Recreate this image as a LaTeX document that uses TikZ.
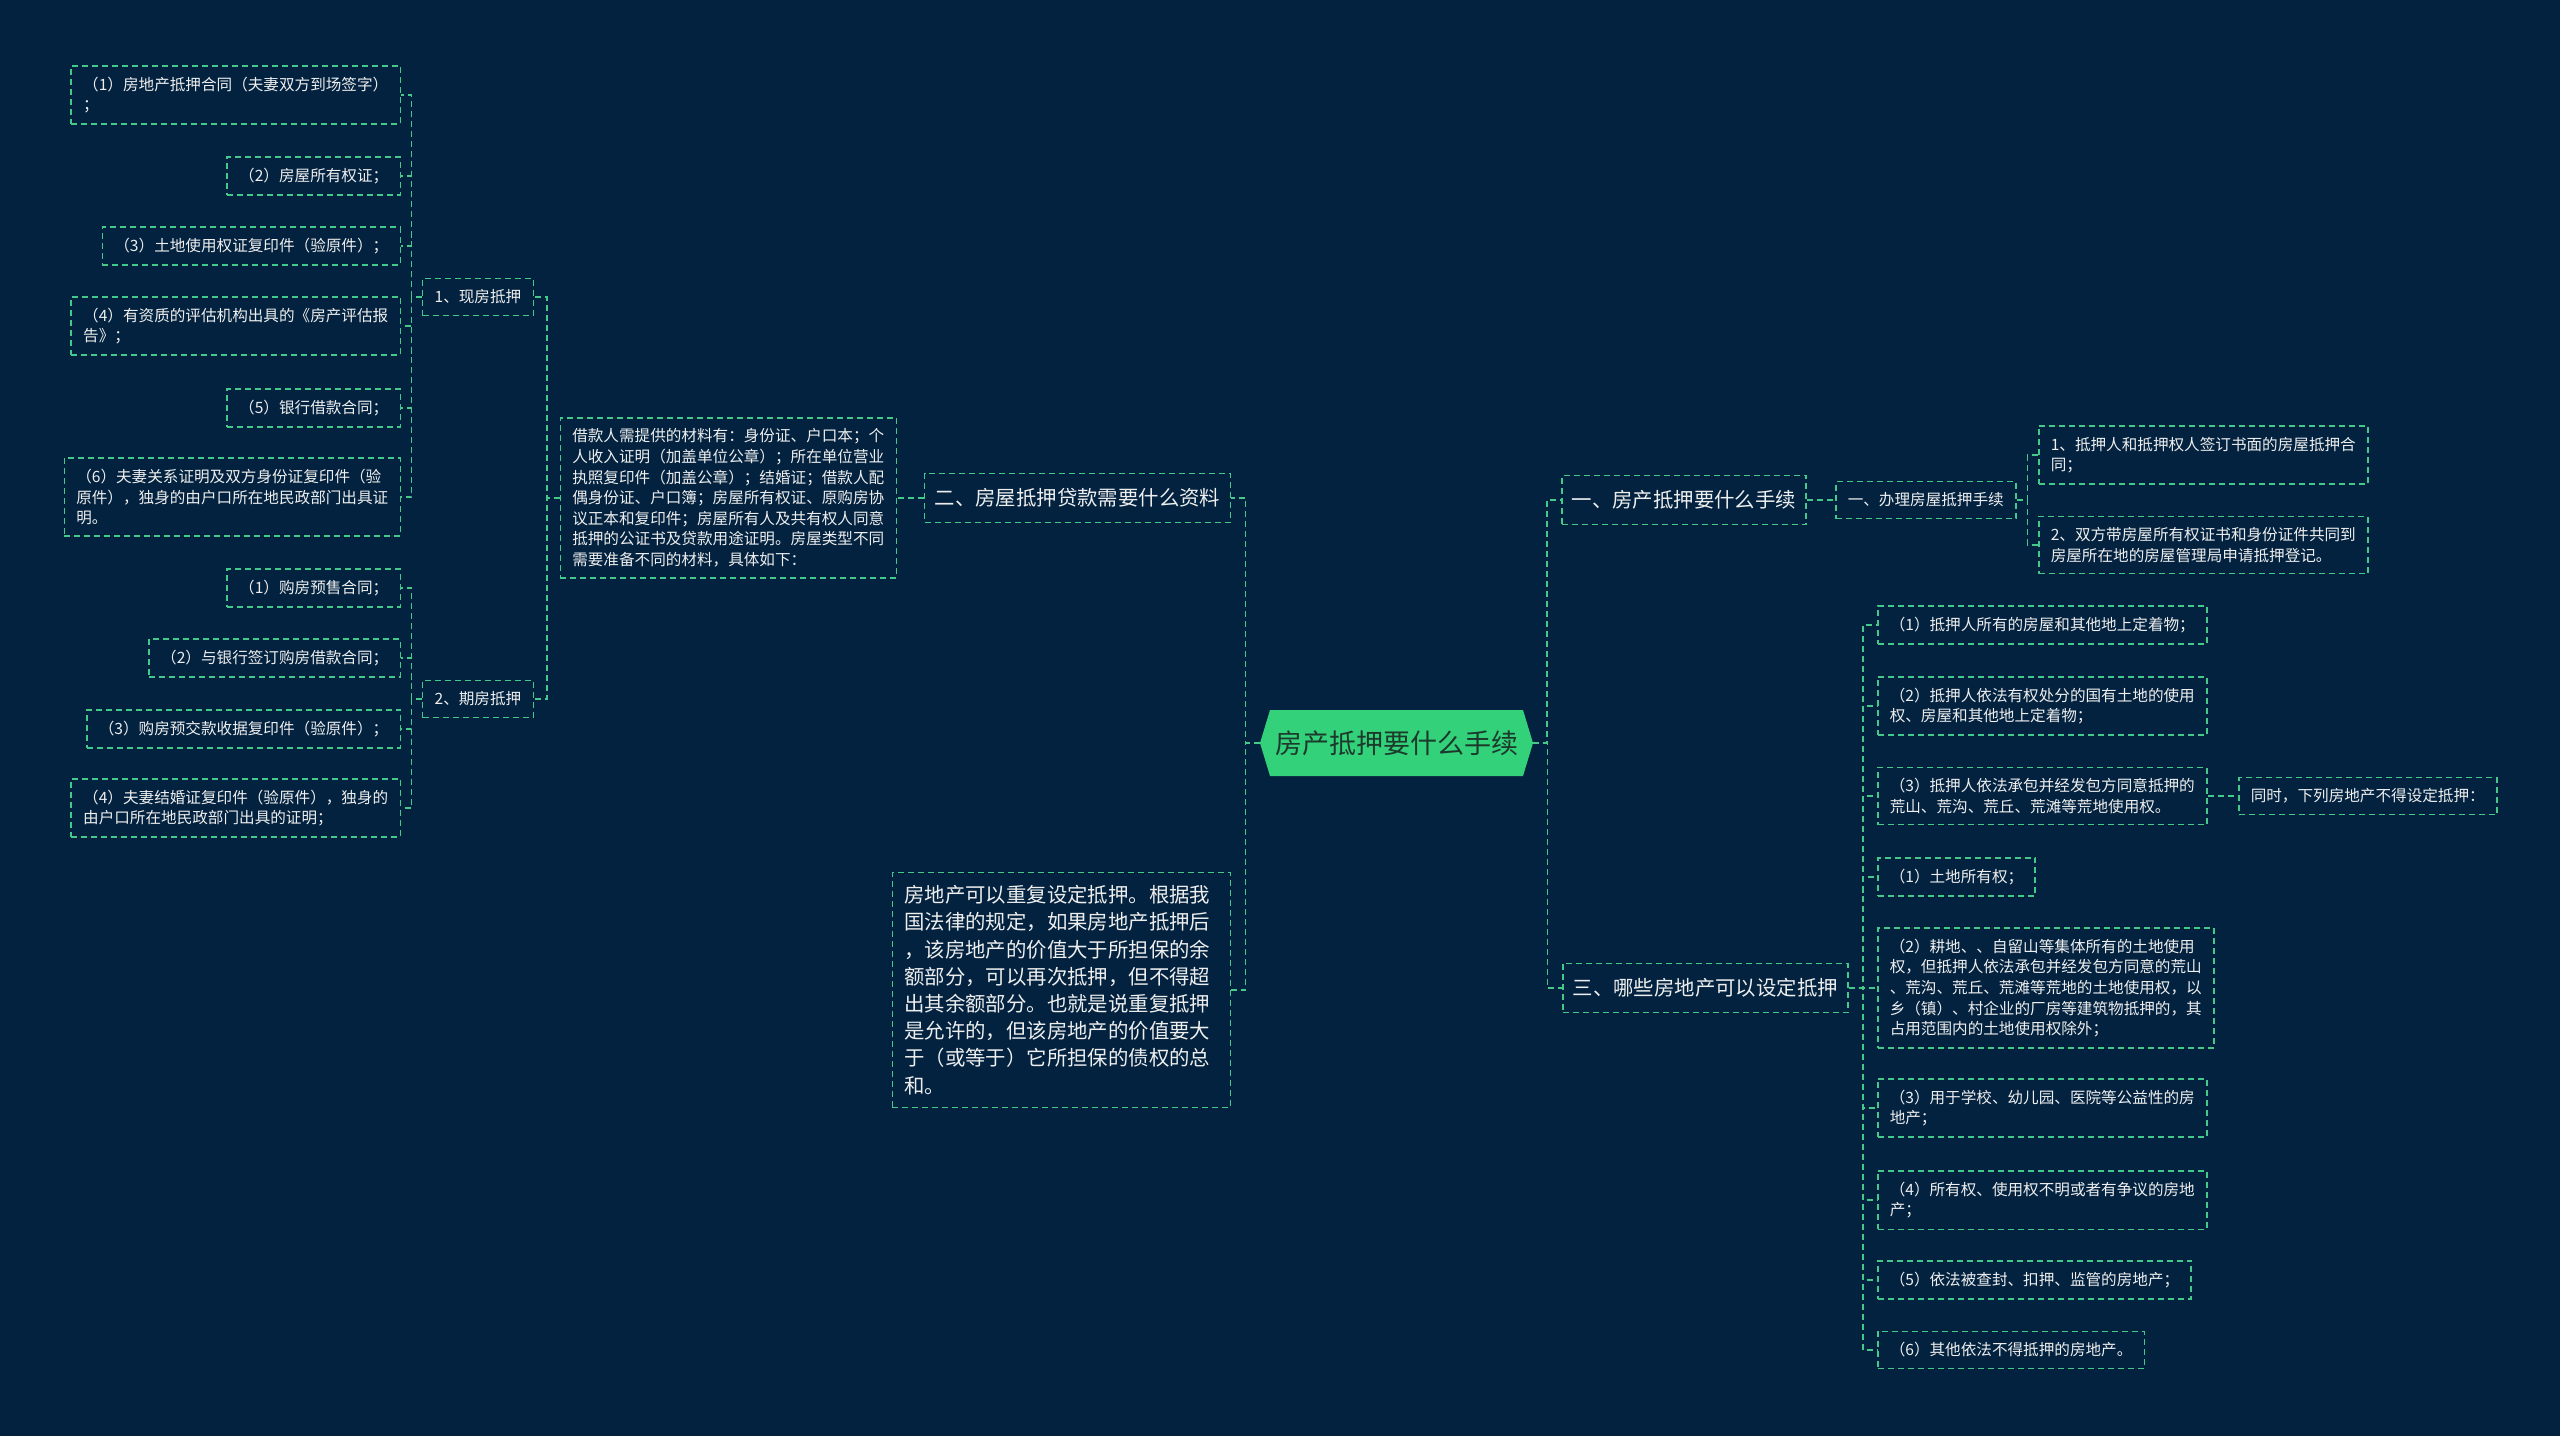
\documentclass[tikz,border=0pt]{standalone}
\usepackage{fontspec}
\setmainfont{Noto Sans CJK SC}
\usetikzlibrary{calc}
\definecolor{bgNavy}{HTML}{02223F}
\definecolor{linkGreen}{HTML}{45C98A}
\definecolor{rootGreen}{HTML}{33D17A}
\definecolor{rootInk}{HTML}{1C3A2C}
\definecolor{paperWhite}{HTML}{EEEEEE}

\begin{document}
\begin{tikzpicture}[x=0.5pt, y=-0.5pt,
  leaf/.style={draw=linkGreen, dash pattern=on 3pt off 2pt, line width=0.75pt,
    text=paperWhite, font=\fontsize{7.8pt}{10.3pt}\selectfont, align=left,
    inner xsep=6pt, inner ysep=5.5pt, minimum height=18.5pt},
  topic/.style={leaf, font=\fontsize{10.2pt}{13.6pt}\selectfont,
    inner xsep=5pt, inner ysep=6.5pt, minimum height=24.5pt},
  link/.style={draw=linkGreen, dash pattern=on 3pt off 2pt, line width=0.75pt},
  elbow/.style={to path={-| ($(\tikztostart)!0.5!(\tikztotarget)$) |- (\tikztotarget)}}]
  % Background
  \useasboundingbox (0,0) rectangle (2560,1436);
  \fill[bgNavy] (0,0) rectangle (2560,1436);
  % Centre
  \fill[rootGreen] (1260,743) -- (1270,710) -- (1523,710) -- (1533,743)
        -- (1523,776) -- (1270,776) -- cycle;
  \node (root) at (1396.5,743) [minimum width=136.5pt, minimum height=33pt,
        inner sep=0pt, text=rootInk, font=\fontsize{13.5pt}{16pt}\selectfont]
        {房产抵押要什么手续};
  % Left: second topic
  \node (two) at (1231,498) [topic, anchor=east] {二、房屋抵押贷款需要什么资料};
  \node (docs) at (897,498) [leaf, anchor=east]
        {借款人需提供的材料有：身份证、户口本；个\\人收入证明（加盖单位公章）；所在单位营业\\执照复印件（加盖公章）；结婚证；借款人配\\偶身份证、户口簿；房屋所有权证、原购房协\\议正本和复印件；房屋所有人及共有权人同意\\抵押的公证书及贷款用途证明。房屋类型不同\\需要准备不同的材料，具体如下：};
  \node (cur) at (534,297) [leaf, anchor=east] {1、现房抵押};
  \node (fut) at (534,699) [leaf, anchor=east] {2、期房抵押};
  \node (c1) at (401,95) [leaf, anchor=east] {（1）房地产抵押合同（夫妻双方到场签字）\\；};
  \node (c2) at (401,176) [leaf, anchor=east] {（2）房屋所有权证；};
  \node (c3) at (401,246) [leaf, anchor=east] {（3）土地使用权证复印件（验原件）；};
  \node (c4) at (401,326) [leaf, anchor=east] {（4）有资质的评估机构出具的《房产评估报\\告》；};
  \node (c5) at (401,408) [leaf, anchor=east] {（5）银行借款合同；};
  \node (c6) at (401,497) [leaf, anchor=east]
        {（6）夫妻关系证明及双方身份证复印件（验\\原件），独身的由户口所在地民政部门出具证\\明。};
  \node (f1) at (401,588) [leaf, anchor=east] {（1）购房预售合同；};
  \node (f2) at (401,658) [leaf, anchor=east] {（2）与银行签订购房借款合同；};
  \node (f3) at (401,729) [leaf, anchor=east] {（3）购房预交款收据复印件（验原件）；};
  \node (f4) at (401,808) [leaf, anchor=east]
        {（4）夫妻结婚证复印件（验原件），独身的\\由户口所在地民政部门出具的证明；};
  % Left: loose note
  \node (again) at (1231,990) [topic, anchor=east, inner xsep=6pt, text width=157pt]
        {房地产可以重复设定抵押。根据我\\国法律的规定，如果房地产抵押后\\，该房地产的价值大于所担保的余\\额部分，可以再次抵押，但不得超\\出其余额部分。也就是说重复抵押\\是允许的，但该房地产的价值要大\\于（或等于）它所担保的债权的总\\和。};
  % Right: first topic
  \node (one) at (1561,500) [topic, anchor=west] {一、房产抵押要什么手续};
  \node (reg) at (1835,500) [leaf, anchor=west] {一、办理房屋抵押手续};
  \node (reg1) at (2038,455) [leaf, anchor=west] {1、抵押人和抵押权人签订书面的房屋抵押合\\同；};
  \node (reg2) at (2038,545) [leaf, anchor=west] {2、双方带房屋所有权证书和身份证件共同到\\房屋所在地的房屋管理局申请抵押登记。};
  % Right: third topic
  \node (three) at (1562,988) [topic, anchor=west] {三、哪些房地产可以设定抵押};
  \node (ok1) at (1877,625) [leaf, anchor=west] {（1）抵押人所有的房屋和其他地上定着物；};
  \node (ok2) at (1877,706) [leaf, anchor=west] {（2）抵押人依法有权处分的国有土地的使用\\权、房屋和其他地上定着物；};
  \node (ok3) at (1877,796) [leaf, anchor=west] {（3）抵押人依法承包并经发包方同意抵押的\\荒山、荒沟、荒丘、荒滩等荒地使用权。};
  \node (also) at (2238,796) [leaf, anchor=west] {同时，下列房地产不得设定抵押：};
  \node (ban1) at (1877,877) [leaf, anchor=west] {（1）土地所有权；};
  \node (ban2) at (1877,988) [leaf, anchor=west]
        {（2）耕地、、自留山等集体所有的土地使用\\权，但抵押人依法承包并经发包方同意的荒山\\、荒沟、荒丘、荒滩等荒地的土地使用权，以\\乡（镇）、村企业的厂房等建筑物抵押的，其\\占用范围内的土地使用权除外；};
  \node (ban3) at (1877,1108) [leaf, anchor=west] {（3）用于学校、幼儿园、医院等公益性的房\\地产；};
  \node (ban4) at (1877,1200) [leaf, anchor=west] {（4）所有权、使用权不明或者有争议的房地\\产；};
  \node (ban5) at (1877,1280) [leaf, anchor=west] {（5）依法被查封、扣押、监管的房地产；};
  \node (ban6) at (1877,1350) [leaf, anchor=west] {（6）其他依法不得抵押的房地产。};
  % Links
  \draw[link] (root.west) to[elbow] (two.east);
  \draw[link] (root.west) to[elbow] (again.east);
  \draw[link] (root.east) to[elbow] (one.west);
  \draw[link] (root.east) to[elbow] (three.west);
  \draw[link] (two.west) -- (docs.east);
  \draw[link] (docs.west) to[elbow] (cur.east);
  \draw[link] (docs.west) to[elbow] (fut.east);
  \draw[link] (cur.west) to[elbow] (c1.east);
  \draw[link] (cur.west) to[elbow] (c2.east);
  \draw[link] (cur.west) to[elbow] (c3.east);
  \draw[link] (cur.west) to[elbow] (c4.east);
  \draw[link] (cur.west) to[elbow] (c5.east);
  \draw[link] (cur.west) to[elbow] (c6.east);
  \draw[link] (fut.west) to[elbow] (f1.east);
  \draw[link] (fut.west) to[elbow] (f2.east);
  \draw[link] (fut.west) to[elbow] (f3.east);
  \draw[link] (fut.west) to[elbow] (f4.east);
  \draw[link] (one.east) -- (reg.west);
  \draw[link] (reg.east) to[elbow] (reg1.west);
  \draw[link] (reg.east) to[elbow] (reg2.west);
  \draw[link] (three.east) to[elbow] (ok1.west);
  \draw[link] (three.east) to[elbow] (ok2.west);
  \draw[link] (three.east) to[elbow] (ok3.west);
  \draw[link] (three.east) to[elbow] (ban1.west);
  \draw[link] (three.east) to[elbow] (ban2.west);
  \draw[link] (three.east) to[elbow] (ban3.west);
  \draw[link] (three.east) to[elbow] (ban4.west);
  \draw[link] (three.east) to[elbow] (ban5.west);
  \draw[link] (three.east) to[elbow] (ban6.west);
  \draw[link] (ok3.east) -- (also.west);
\end{tikzpicture}
\end{document}
